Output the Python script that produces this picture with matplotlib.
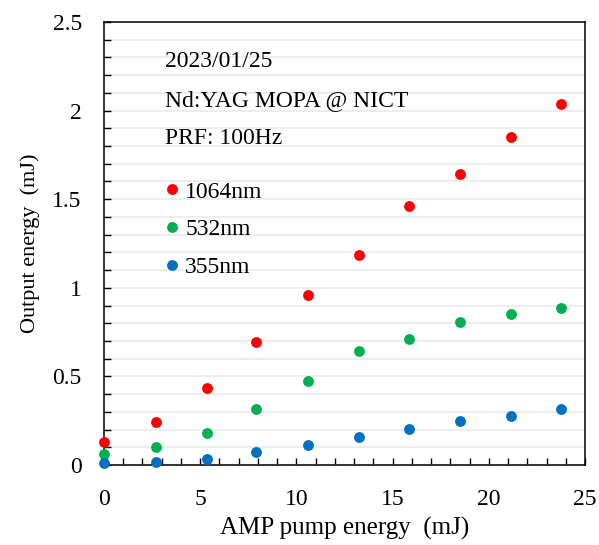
import numpy as np
import matplotlib
matplotlib.use('Agg')
import matplotlib.pyplot as plt
from matplotlib.ticker import MultipleLocator, FuncFormatter

# AMP pump energy (mJ) and output energies (mJ)
pump = [0.0, 2.69, 5.37, 7.92, 10.62, 13.25, 15.85, 18.5, 21.15, 23.74]
e1064 = [0.13, 0.244, 0.436, 0.694, 0.959, 1.187, 1.46, 1.644, 1.851, 2.035]
e532 = [0.062, 0.10, 0.18, 0.314, 0.476, 0.643, 0.709, 0.805, 0.85, 0.886]
e355 = [0.013, 0.019, 0.034, 0.072, 0.115, 0.158, 0.201, 0.247, 0.277, 0.314]

labels = ['1064nm', '532nm', '355nm']
colors = ['#FF0000', '#00B050', '#0070C0']
notes = ['2023/01/25', 'Nd:YAG MOPA @ NICT', 'PRF: 100Hz']

plt.rcParams['font.family'] = ['Liberation Serif', 'DejaVu Serif']
plt.rcParams['font.size'] = 17

fig = plt.figure(figsize=(5.99, 5.45), dpi=100)
ax = fig.add_axes([0.1736, 0.1468, 0.803, 0.8128])

for ys, lab, c in zip([e1064, e532, e355], labels, colors):
    ax.plot(pump, ys, 'o', color=c, ms=7.8, mec='none', label=lab, clip_on=False, zorder=3)

ax.set_xlim(0, 25)
ax.set_ylim(0, 2.5)
ax.xaxis.set_major_locator(MultipleLocator(5))
ax.xaxis.set_minor_locator(MultipleLocator(1))
ax.yaxis.set_major_locator(MultipleLocator(0.5))
ax.yaxis.set_minor_locator(MultipleLocator(0.1))
ax.yaxis.set_major_formatter(FuncFormatter(lambda v, p: '%g' % v))
ax.tick_params(which='both', direction='in', width=1, color='black')
ax.tick_params(which='major', length=5, labelsize=17)
ax.tick_params(axis='x', which='major', pad=17)
ax.tick_params(axis='y', which='major', pad=16)
ax.tick_params(which='minor', length=5)
ax.grid(axis='y', which='both', color='#ececec', lw=1.3)
ax.set_axisbelow(True)
for s in ax.spines.values():
    s.set_linewidth(1.1)

ax.set_xlabel('AMP pump energy  (mJ)', fontsize=18, labelpad=5)
ax.set_ylabel('Output energy  (mJ)', fontsize=16, labelpad=9)

for i, t in enumerate(notes):
    ax.text(0.127, 0.91 - i * 0.087, t, transform=ax.transAxes, fontsize=17, va='center')

ax.legend(loc='upper left', bbox_to_anchor=(0.095, 0.662), frameon=False,
          handletextpad=0.0, labelspacing=0.68, fontsize=17, borderaxespad=0,
          handlelength=1.1)

fig.savefig('out.png', dpi=100)
